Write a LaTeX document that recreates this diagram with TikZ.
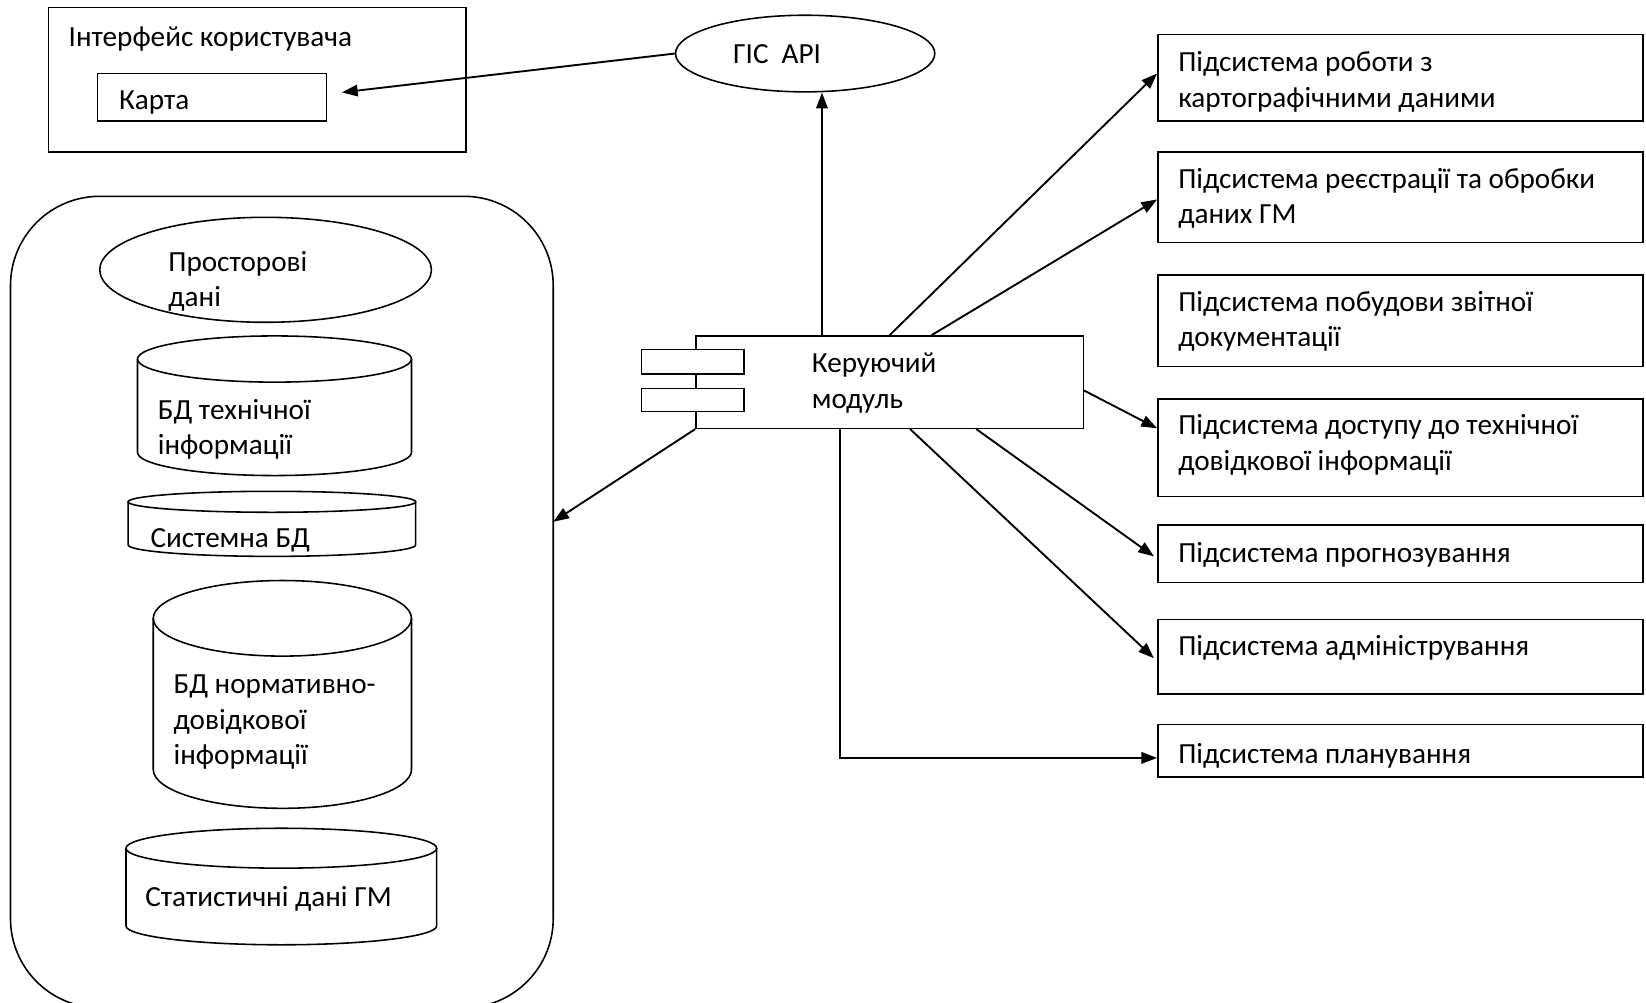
\documentclass[tikz,border=0pt]{standalone}
\usepackage{fontspec}
\setmainfont{Carlito}
\usetikzlibrary{arrows.meta,shapes.geometric}
\newcommand\mycyl[7]{% L R topcy botcy rx ry ry2
  \draw[line width=0.75pt] ({(#1+#2)/2},#3) ellipse [x radius=#5pt, y radius=#6pt];
  \draw[line width=0.75pt] (#1,#3) -- (#1,#4) arc[start angle=180,end angle=360,x radius=#5pt,y radius=#7pt] -- (#2,#3);
}
\begin{document}
\begin{tikzpicture}[x=0.5pt,y=-0.5pt,
  box/.style={draw,line width=0.75pt,rectangle,inner sep=0pt},
  ell/.style={draw,line width=0.75pt,ellipse,inner sep=0pt},
  lbl/.style={anchor=west,inner sep=0pt,align=left,font=\fontsize{13.9}{17}\selectfont},
  arr/.style={line width=0.9pt,-{Triangle[length=7.5pt,width=5.5pt]}},
]
\useasboundingbox (0,0) rectangle (1568,955);
\clip (0,0) rectangle (1568,955);
\fill[white] (0,0) rectangle (1568,955);

% user interface
\node[box,minimum width=199pt,minimum height=69pt] (ui) at (245,76) {};
\node[lbl] (uit) at (65,37) {Інтерфейс користувача};
\node[box,minimum width=109pt,minimum height=22.5pt] (karta) at (202,92.5) {};
\node[lbl] (kartat) at (113,98) {Карта};

% GIS API
\node[ell,minimum width=123.5pt,minimum height=36.5pt] (gis) at (767,51) {};
\node[lbl] (gist) at (698,52) {ГІС\hspace{0.45em}API};

% storage container
\node[draw,line width=0.75pt,rounded corners=42.5pt,minimum width=258.5pt,minimum height=386.5pt,inner sep=0pt] (store) at (268.5,573.5) {};
\coordinate (storein) at (527,497);

\node[ell,minimum width=158pt,minimum height=50pt] (spat) at (253,257) {};
\node[lbl] (spatt) at (160,268) {Просторові\\дані};

\mycyl{131}{392}{342}{431}{65.25}{11}{11}
\node[lbl] (techt) at (150,409) {БД технічної\\інформації};

\mycyl{122}{396}{478}{519}{68.5}{5}{5.5}
\node[lbl] (syst) at (143,515) {Системна БД};

\mycyl{146}{392}{589}{733}{61.5}{18}{18.5}
\node[lbl] (normt) at (165,688) {БД нормативно-\\довідкової\\інформації};

\mycyl{120}{416}{808}{882}{74}{9.5}{9}
\node[lbl] (statt) at (138,856) {Статистичні дані ГМ};

% control module
\node[box,minimum width=184.5pt,minimum height=44pt] (mod) at (847.5,364) {};
\node[box,fill=white,minimum width=49pt,minimum height=11.5pt] (p1) at (660,344.5) {};
\node[box,fill=white,minimum width=49pt,minimum height=11pt] (p2) at (660,381) {};
\node[lbl] (modt) at (773,365) {Керуючий\\модуль};

% subsystems
\node[box,minimum width=231pt,minimum height=41pt] (r1) at (1334,74) {};
\node[lbl] at (1122,78) {Підсистема роботи з\\картографічними даними};
\node[box,minimum width=231pt,minimum height=43pt] (r2) at (1334,188) {};
\node[lbl] at (1122,189) {Підсистема реєстрації та обробки\\даних ГМ};
\node[box,minimum width=231pt,minimum height=43.5pt] (r3) at (1334,305.5) {};
\node[lbl] at (1122,306) {Підсистема побудови звітної\\документації};
\node[box,minimum width=231pt,minimum height=46.5pt] (r4) at (1334,426.5) {};
\node[lbl] at (1122,424) {Підсистема доступу до технічної\\довідкової інформації};
\node[box,minimum width=231pt,minimum height=27.5pt] (r5) at (1334,527.5) {};
\node[lbl] at (1122,529) {Підсистема прогнозування};
\node[box,minimum width=231pt,minimum height=35.5pt] (r6) at (1334,625.5) {};
\node[lbl] at (1122,617) {Підсистема адміністрування};
\node[box,minimum width=231pt,minimum height=25pt] (r7) at (1334,715) {};
\node[lbl] at (1122,720) {Підсистема планування};

% connectors
\coordinate (ax) at (783,0);
\draw[arr] (gis.west) -- ([xshift=7pt,yshift=2.25pt]karta.east);
\draw[arr] (mod.north -| ax) -- (gis.south -| ax);
\draw[arr] (mod.south west) -- (storein);
\draw[arr] (mod.north) -- ([yshift=2pt]r1.west);
\draw[arr] ([xshift=20pt]mod.north) -- ([yshift=-1pt]r2.west);
\draw[arr] ([yshift=-4pt]mod.east) -- ([yshift=9.25pt]r4.west);
\draw[arr] ([xshift=41.25pt]mod.south) -- ([xshift=-1.5pt,yshift=-1.25pt]r5.west);
\draw[arr] ([xshift=9.75pt]mod.south) -- ([xshift=-1.5pt,yshift=-0.75pt]r6.west);
\draw[arr] ([xshift=-23.75pt]mod.south) |- ([yshift=-3.5pt]r7.west);
\end{tikzpicture}
\end{document}
